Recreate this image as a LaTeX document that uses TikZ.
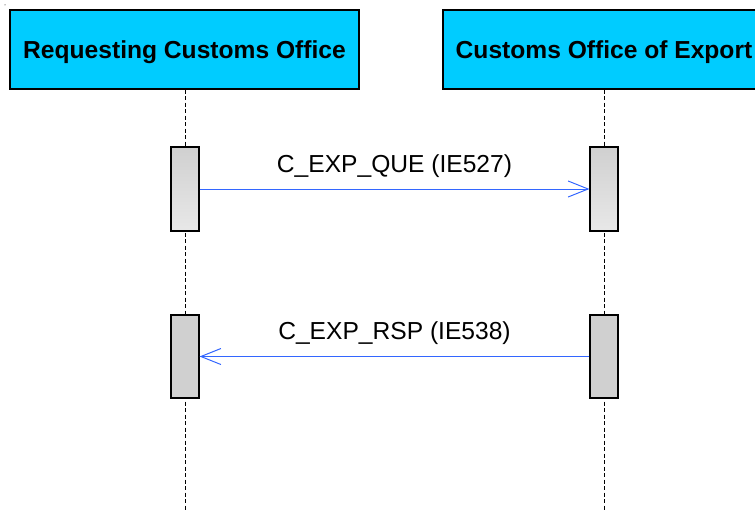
\documentclass[tikz,border=0pt]{standalone}
\usepackage{fontspec}
\setmainfont{Liberation Sans}
\usepackage{xcolor}
\usepackage{tikz}
\usetikzlibrary{arrows.meta, positioning}
\definecolor{headcyan}{RGB}{0, 204, 255}
\definecolor{msgblue}{RGB}{51, 102, 255}
\definecolor{actgray}{RGB}{208, 208, 208}
\definecolor{actlight}{RGB}{232, 232, 232}

\begin{document}
\begin{tikzpicture}[x=1pt, y=-1pt,
  party/.style={draw=black, line width=1.4pt, fill=headcyan, minimum height=79pt,
    inner sep=0pt, text height=17.6pt, text depth=0pt, font=\fontsize{24.6}{27}\selectfont\bfseries},
  lifeline/.style={black, line width=0.8pt, dash pattern=on 4pt off 2.5pt},
  actbox/.style={draw=black, line width=1.1pt, minimum width=28pt, minimum height=84pt, inner sep=0pt},
  msg/.style={msgblue, line width=1pt, -{Straight Barb[length=20pt, width=16pt]}},
  msglabel/.style={font=\fontsize{24.6}{27}\selectfont, text=black, inner sep=0pt}]
  \useasboundingbox (0,0) rectangle (755,511);
  \clip (0,0) rectangle (755,511);
  \fill (5,5) circle (0.5pt);
  % Parties
  \node[party, minimum width=349pt] (reqoffice) at (184.5,49.5) {Requesting Customs Office};
  \node[party, minimum width=322pt] (expoffice) at (604,49.5) {Customs Office of Export};
  % Lifelines
  \coordinate (reqend) at (185,511);
  \coordinate (expend) at (604,511);
  \draw[lifeline] (reqoffice.south -| reqend) -- (reqend);
  \draw[lifeline] (expoffice.south) -- (expend);
  % Activations
  \node[actbox, top color=actgray, bottom color=actlight] (reqque) at (185,189) {};
  \node[actbox, top color=actgray, bottom color=actlight] (expque) at (604,189) {};
  \node[actbox, fill=actgray, minimum height=83pt] (reqrsp) at (185,356.5) {};
  \node[actbox, fill=actgray, minimum height=83pt] (exprsp) at (604,356.5) {};
  % Messages
  \draw[msg] (reqque.east) -- node[msglabel, above=11pt] {C\_EXP\_QUE (IE527)} (expque.west);
  \draw[msg] (exprsp.west) -- node[msglabel, above=11pt] {C\_EXP\_RSP (IE538)} (reqrsp.east);
\end{tikzpicture}
\end{document}
